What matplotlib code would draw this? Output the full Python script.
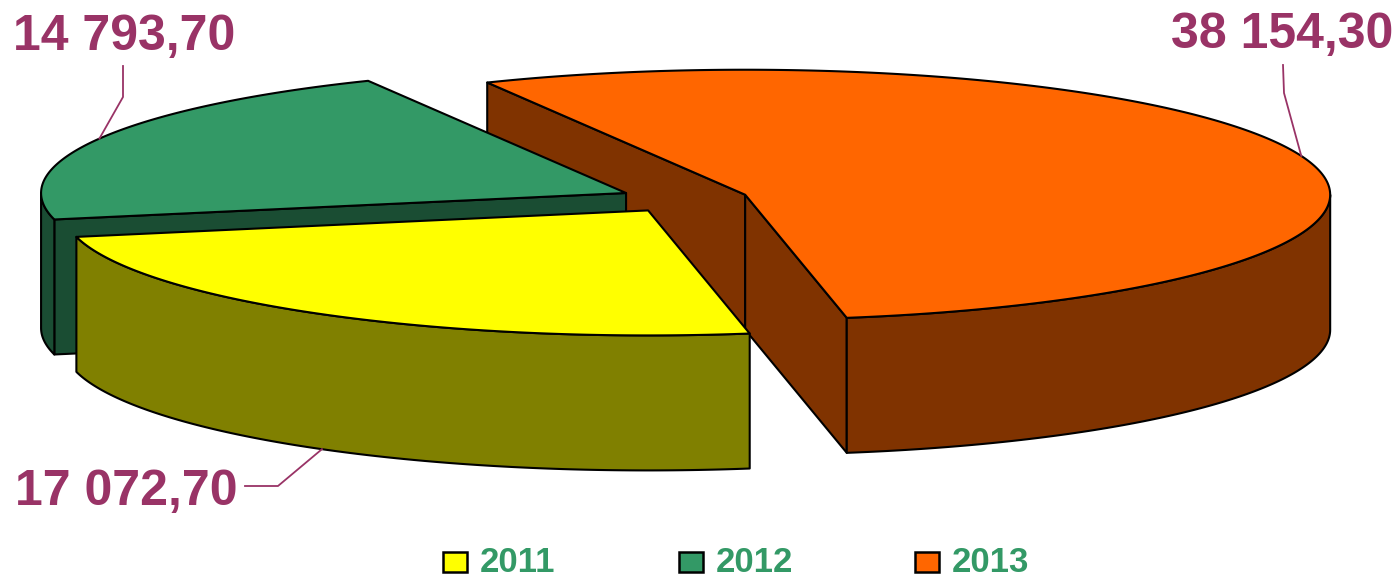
import numpy as np
import matplotlib
matplotlib.use('Agg')
import matplotlib.pyplot as plt
from matplotlib.patches import Polygon, Rectangle

# ---- data ----
years = ['2011', '2012', '2013']
values = [17072.70, 14793.70, 38154.30]
value_labels = ['17 072,70', '14 793,70', '38 154,30']

# ---- style ----
top_colors = ['#FFFF00', '#339966', '#FF6600']
side_colors = ['#808000', '#1A4D33', '#803300']
label_color = '#993366'
legend_text_color = '#339966'
FONT = 'Liberation Sans'

W, H = 1400, 577
fig = plt.figure(figsize=(14, 5.77), dpi=100)
ax = fig.add_axes([0, 0, 1, 1])
ax.set_xlim(0, W)
ax.set_ylim(H, 0)
ax.axis('off')

# projected pie geometry (pixel space)
CX, CY = 684, 199
RX, RY = 585, 125
DEPTH = 135
EXPLODE = 0.11
START = -80.0
EDGE_LW = 1.5

fr = np.array(values) / np.sum(values)
span = fr * 360.0
t_starts = START - np.concatenate([[0], np.cumsum(span)[:-1]])
t_ends = t_starts - span


def rim(cx, cy, t_deg, dz=0.0):
    t = np.radians(t_deg)
    return np.column_stack([cx + RX * np.cos(t), cy - RY * np.sin(t) + dz])


def poly(points, fc):
    ax.add_patch(Polygon(points, closed=True, facecolor=fc, edgecolor='black',
                         linewidth=EDGE_LW, joinstyle='round'))


centers = []
for i in range(len(values)):
    mid = (t_starts[i] + t_ends[i]) / 2
    m = np.radians(mid)
    centers.append((CX + EXPLODE * RX * np.cos(m), CY - EXPLODE * RY * np.sin(m)))

draw_order = [2, 1, 0]
for i in draw_order:
    cx, cy = centers[i]
    hi, lo = t_starts[i], t_ends[i]
    # radial walls
    for t, nrm in ((hi, hi + 90), (lo, lo - 90)):
        if np.sin(np.radians(nrm)) < 0:
            p = rim(cx, cy, np.array([t]))[0]
            pts = [(cx, cy), tuple(p), (p[0], p[1] + DEPTH), (cx, cy + DEPTH)]
            poly(pts, side_colors[i])
    # outer wall (front part)
    for k in range(-2, 3):
        a = max(lo, -180 + 360 * k)
        b = min(hi, 360 * k)
        if b > a:
            ts = np.linspace(a, b, 120)
            top = rim(cx, cy, ts)
            bot = rim(cx, cy, ts[::-1], DEPTH)
            poly(np.vstack([top, bot]), side_colors[i])
    # top face
    ts = np.linspace(lo, hi, 300)
    arc = rim(cx, cy, ts)
    poly(np.vstack([[cx, cy], arc]), top_colors[i])

# ---- value labels with leader lines ----
label_layout = {
    0: dict(text_xy=(15, 505), ha='left', elbow=(278, 486), end=(245, 486)),
    1: dict(text_xy=(13, 50), ha='left', elbow=(123, 97), end=(123, 66)),
    2: dict(text_xy=(1393, 48), ha='right', elbow=(1284, 93), end=(1283, 65)),
}
for i, lay in label_layout.items():
    cx, cy = centers[i]
    mid = (t_starts[i] + t_ends[i]) / 2
    dz = DEPTH if np.sin(np.radians(mid)) < 0 else 0
    anc = rim(cx, cy, np.array([mid]), dz)[0]
    xs = [anc[0], lay['elbow'][0], lay['end'][0]]
    ys = [anc[1], lay['elbow'][1], lay['end'][1]]
    ax.plot(xs, ys, color=label_color, lw=1.3)
    ax.text(lay['text_xy'][0], lay['text_xy'][1], value_labels[i], ha=lay['ha'],
            va='baseline', fontsize=36, fontweight='bold', color=label_color,
            family=FONT)

# ---- legend ----
LEG_X0, LEG_DX, LEG_Y, SQ_W, SQ_H = 443, 236, 552, 24, 20
for i, yr in enumerate(years):
    x = LEG_X0 + i * LEG_DX
    ax.add_patch(Rectangle((x, LEG_Y), SQ_W, SQ_H, facecolor=top_colors[i],
                           edgecolor='black', linewidth=1.8))
    ax.text(x + 37, 572, yr, ha='left', va='baseline', fontsize=25,
            fontweight='bold', color=legend_text_color, family=FONT)

fig.savefig('out.png', dpi=100, facecolor='white')
